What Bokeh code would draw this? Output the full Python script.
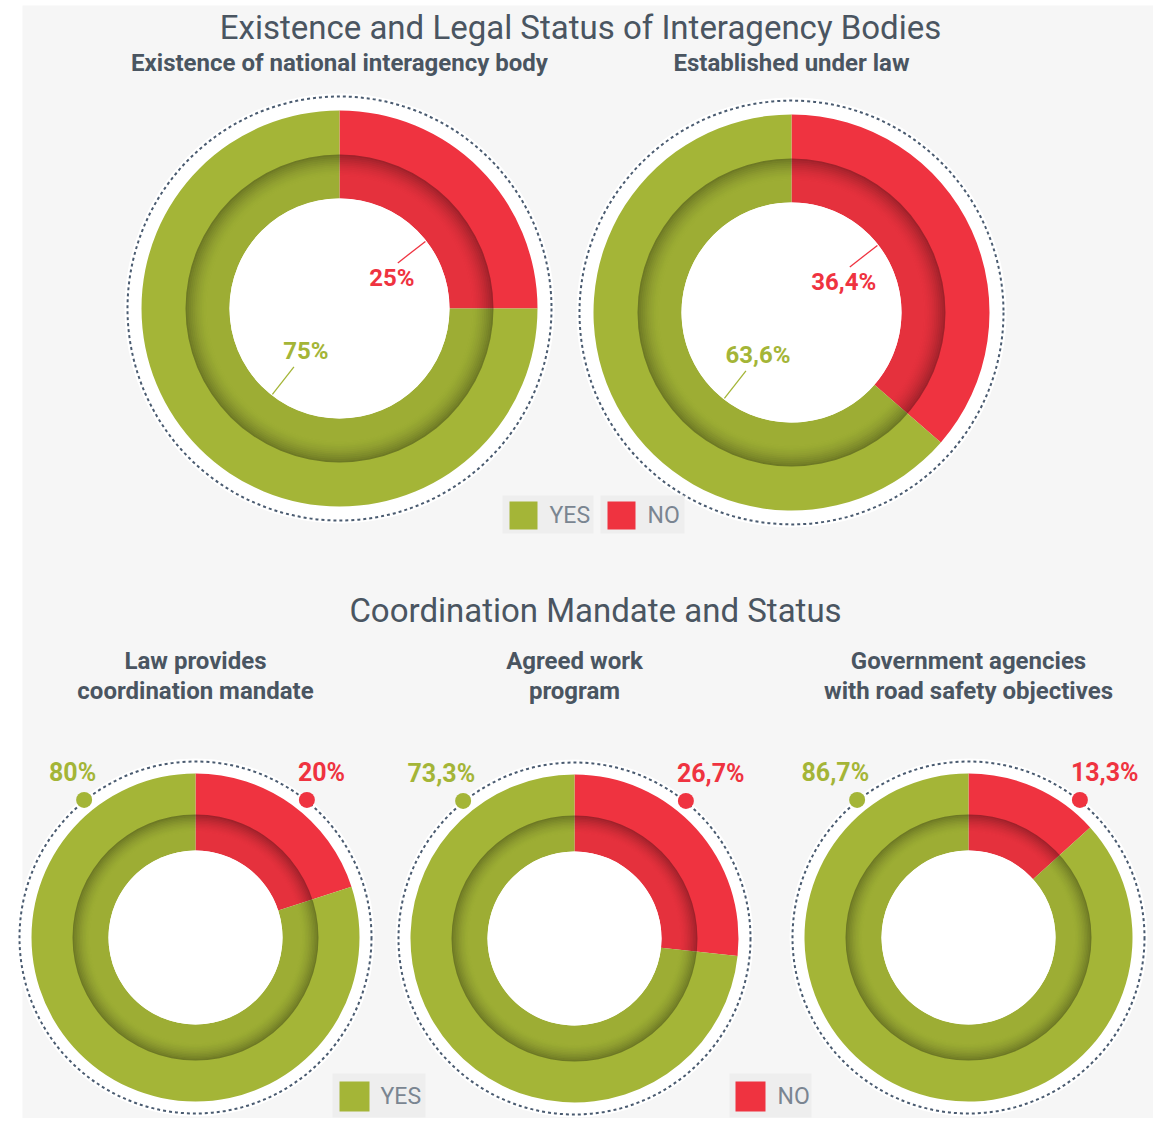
import numpy as np
from bokeh.plotting import figure
from bokeh.models import Range1d
from bokeh.core.properties import value
from bokeh.embed import file_html
from bokeh.resources import INLINE

# ---------------- data ----------------
main_title = "Existence and Legal Status of Interagency Bodies"
section_title = "Coordination Mandate and Status"

top_titles = ["Existence of national interagency body", "Established under law"]
top_yes = [75.0, 63.6]
top_no = [25.0, 36.4]
top_yes_labels = ["75%", "63,6%"]
top_no_labels = ["25%", "36,4%"]

bottom_titles_1 = ["Law provides", "Agreed work", "Government agencies"]
bottom_titles_2 = ["coordination mandate", "program", "with road safety objectives"]
bottom_yes = [80.0, 73.3, 86.7]
bottom_no = [20.0, 26.7, 13.3]
bottom_yes_labels = ["80%", "73,3%", "86,7%"]
bottom_no_labels = ["20%", "26,7%", "13,3%"]

legend_labels = ["YES", "NO"]

# ---------------- style ----------------
GREEN = "#a4b537"
RED = "#ef3340"
TITLE_C = "#4a5561"
LEG_TXT = "#7a8591"
DOT_C = "#4a5b70"
PANEL = "#f6f6f6"
FONT = value("Roboto")

W, H = 1153, 1118
p = figure(width=W, height=H, output_backend="svg", toolbar_location=None,
           x_range=Range1d(0, W), y_range=Range1d(-H, 0),
           min_border=0, outline_line_color=None, background_fill_color="white",
           border_fill_color="white")
p.axis.visible = False
p.grid.visible = False

# background panel
p.quad(left=[22], right=[1170], top=[-5], bottom=[-1130], fill_color=PANEL, line_color=None)


def donut(cx, cy, no, r_hole, r_mid, r_out, r_dot):
    y = -cy
    # white halo and dotted circle
    p.circle(x=[cx], y=[y], radius=r_dot + 3, fill_color="white", line_color=None)
    p.circle(x=[cx], y=[y], radius=r_dot, fill_color=None, line_color=DOT_C,
             line_width=2, line_dash="3 3")
    a_no = np.deg2rad(no * 3.6)
    top = np.pi / 2
    # red (clockwise from top)
    p.annular_wedge(x=[cx], y=[y], inner_radius=r_hole, outer_radius=r_out,
                    start_angle=top - a_no, end_angle=top, direction="anticlock",
                    fill_color=RED, line_color=None)
    # green (remaining)
    p.annular_wedge(x=[cx], y=[y], inner_radius=r_hole, outer_radius=r_out,
                    start_angle=top, end_angle=top - a_no + 2 * np.pi, direction="anticlock",
                    fill_color=GREEN, line_color=None)
    # recessed inner band shadow
    n = 12
    depth = (r_mid - r_hole) * 0.5
    step = depth / n
    for k in range(n):
        ro = r_mid - k * step
        ri = ro - step
        alpha = 0.30 * (1 - k / n) ** 1.8
        p.annulus(x=[cx], y=[y], inner_radius=ri, outer_radius=ro,
                  fill_color="black", fill_alpha=alpha, line_color=None)
    # faint tone over the inner band
    p.annulus(x=[cx], y=[y], inner_radius=r_hole, outer_radius=r_mid,
              fill_color="black", fill_alpha=0.04, line_color=None)
    # hole
    p.circle(x=[cx], y=[y], radius=r_hole, fill_color="white", line_color=None)


# ---------------- titles ----------------
p.text(x=[580], y=[-27], text=[main_title], text_font=FONT, text_font_size="33px",
       text_color=TITLE_C, text_align="center", text_baseline="middle")
p.text(x=[595], y=[-610], text=[section_title], text_font=FONT, text_font_size="33px",
       text_color=TITLE_C, text_align="center", text_baseline="middle")

# ---------------- top donuts ----------------
top_cx = [339, 791]
top_cy = [308, 312]
for i in range(2):
    cx, cy = top_cx[i], top_cy[i]
    donut(cx, cy, top_no[i], 110, 154, 198, 212)
    p.text(x=[cx], y=[-62], text=[top_titles[i]], text_font=FONT, text_font_size="24px",
           text_font_style="bold", text_color=TITLE_C, text_align="center", text_baseline="middle")
    # leader lines + labels
    for ang_deg, col, lab, off in [(38, RED, top_no_labels[i], (-6, -15)),
                                   (232, GREEN, top_yes_labels[i], (12, 16))]:
        a = np.deg2rad(ang_deg)
        x0, y0 = cx + 109 * np.cos(a), -cy + 109 * np.sin(a)
        x1, y1 = cx + 74 * np.cos(a), -cy + 74 * np.sin(a)
        p.line(x=[x0, x1], y=[y0, y1], line_color=col, line_width=1.3)
        p.text(x=[x1 + off[0]], y=[y1 + off[1]], text=[lab], text_font=FONT,
               text_font_size="24px", text_font_style="bold", text_color=col,
               text_align="center", text_baseline="middle")

# top legend
leg_top = [(502, 593, 509, 549), (600, 684, 607, 647)]
for (pl, pr, bx, tx), lab, col in zip(leg_top, legend_labels, [GREEN, RED]):
    p.quad(left=[pl], right=[pr], top=[-495], bottom=[-533], fill_color="#eeeeee", line_color=None)
    p.quad(left=[bx], right=[bx + 28], top=[-501], bottom=[-529], fill_color=col, line_color=None)
    p.text(x=[tx], y=[-515], text=[lab], text_font=FONT, text_font_size="23px",
           text_color=LEG_TXT, text_align="left", text_baseline="middle")

# ---------------- bottom donuts ----------------
bot_cx = [195, 574, 968]
bot_cy = [937, 938, 937]
for i in range(3):
    cx, cy = bot_cx[i], bot_cy[i]
    donut(cx, cy, bottom_no[i], 87, 123, 164, 176)
    p.text(x=[cx], y=[-660], text=[bottom_titles_1[i]], text_font=FONT, text_font_size="24px",
           text_font_style="bold", text_color=TITLE_C, text_align="center", text_baseline="middle")
    p.text(x=[cx], y=[-690], text=[bottom_titles_2[i]], text_font=FONT, text_font_size="24px",
           text_font_style="bold", text_color=TITLE_C, text_align="center", text_baseline="middle")
    for side, col, lab in [(1, GREEN, bottom_yes_labels[i]), (-1, RED, bottom_no_labels[i])]:
        a = np.deg2rad(90 + side * 39)
        dx, dy = cx + 177 * np.cos(a), -cy + 177 * np.sin(a)
        p.circle(x=[dx], y=[dy], radius=8, fill_color=col, line_color=None)
        if side == 1:
            p.text(x=[dx + 12], y=[dy + 27], text=[lab], text_font=FONT, text_font_size="25px",
                   text_font_style="bold", text_color=col, text_align="right", text_baseline="middle")
        else:
            p.text(x=[dx - 9], y=[dy + 27], text=[lab], text_font=FONT, text_font_size="25px",
                   text_font_style="bold", text_color=col, text_align="left", text_baseline="middle")

# bottom legend
leg_bot = [(332, 425, 339, 380), (729, 811, 735, 777)]
for (pl, pr, bx, tx), lab, col in zip(leg_bot, legend_labels, [GREEN, RED]):
    p.quad(left=[pl], right=[pr], top=[-1073], bottom=[-1117], fill_color="#eeeeee", line_color=None)
    p.quad(left=[bx], right=[bx + 30], top=[-1081], bottom=[-1111], fill_color=col, line_color=None)
    p.text(x=[tx], y=[-1096], text=[lab], text_font=FONT, text_font_size="23px",
           text_color=LEG_TXT, text_align="left", text_baseline="middle")

open("out.html", "w").write(file_html(p, INLINE))
